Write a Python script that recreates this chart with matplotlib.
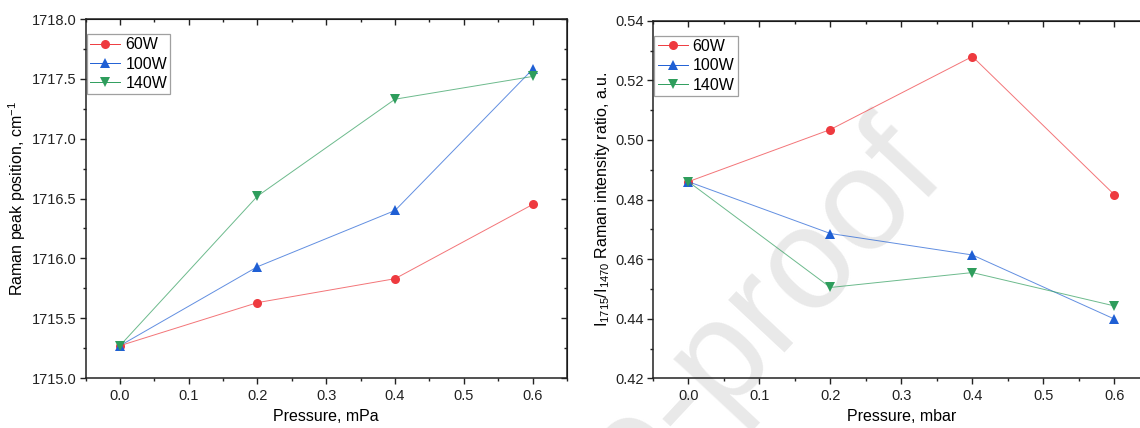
import matplotlib
matplotlib.use('Agg')
import matplotlib.pyplot as plt
from matplotlib.ticker import MultipleLocator, FormatStrFormatter

plt.rcParams['font.family'] = ['Liberation Sans', 'DejaVu Sans']
plt.rcParams['mathtext.fontset'] = 'custom'
plt.rcParams['mathtext.rm'] = 'Liberation Sans'
plt.rcParams['mathtext.default'] = 'regular'

# data
pressure = [0.0, 0.2, 0.4, 0.6]
series_names = ['60W', '100W', '140W']

peak_60 = [1715.27, 1715.63, 1715.83, 1716.45]
peak_100 = [1715.27, 1715.93, 1716.40, 1717.58]
peak_140 = [1715.27, 1716.52, 1717.33, 1717.52]

ratio_60 = [0.486, 0.5035, 0.528, 0.4816]
ratio_100 = [0.486, 0.4686, 0.4614, 0.4399]
ratio_140 = [0.486, 0.4505, 0.4555, 0.4443]

colors = ['#ee3a3f', '#1f5fd4', '#2e9d5c']
markers = ['o', '^', 'v']

fig = plt.figure(figsize=(11.4, 4.28), dpi=100)

# faint watermark behind the plots
fig.text(0.832, 0.585, 'Journal Pre-proof', fontsize=104, color='#e9e9e9',
         rotation=47, rotation_mode='anchor', ha='right', va='baseline', zorder=0)

ax1 = fig.add_axes([0.075, 0.1168, 0.4224, 0.8388])
ax2 = fig.add_axes([0.5727, 0.116, 0.436, 0.8355])


def style_axis(ax):
    ax.set_facecolor('none')
    ax.set_zorder(1)
    ax.set_xlim(-0.05, 0.65)
    ax.xaxis.set_major_locator(MultipleLocator(0.1))
    ax.xaxis.set_minor_locator(MultipleLocator(0.05))
    for s in ax.spines.values():
        s.set_linewidth(1.1)
        s.set_color('#222222')
    ax.tick_params(which='both', direction='out', top=False, right=False,
                   labelsize=10.5, colors='#222222')
    ax.tick_params(which='major', length=4, width=1.0)
    ax.tick_params(which='minor', length=2.5, width=1.0)
    ax.tick_params(axis='x', pad=4)
    ax.tick_params(axis='y', pad=2.5)
    # inward ticks on top and right, like Origin
    sx = ax.secondary_xaxis('top')
    sx.xaxis.set_major_locator(MultipleLocator(0.1))
    sx.xaxis.set_minor_locator(MultipleLocator(0.05))
    sx.tick_params(which='both', direction='in', labeltop=False, width=1.0, colors='#222222')
    sx.tick_params(which='major', length=4)
    sx.tick_params(which='minor', length=2.5)
    sy = ax.secondary_yaxis('right')
    sy.tick_params(which='both', direction='in', labelright=False, width=1.0, colors='#222222')
    sy.tick_params(which='major', length=4)
    sy.tick_params(which='minor', length=2.5)
    return sy


def draw(ax, ys):
    for y, name, c, m in zip(ys, series_names, colors, markers):
        ax.plot(pressure, y, color=c, lw=0.7, alpha=0.7)
        ax.plot(pressure, y, linestyle='none', marker=m, color=c, ms=6.5,
                markeredgewidth=0)
        ax.plot([], [], color=c, lw=0.7, marker=m, ms=6.5, markeredgewidth=0,
                label=name)
    leg = ax.legend(loc='upper left', bbox_to_anchor=(0.003, 0.958),
                    fontsize=11.5, frameon=True, fancybox=False,
                    edgecolor='#888888', borderpad=0.2, labelspacing=0.27,
                    handlelength=1.9, handletextpad=0.3, borderaxespad=0)
    leg.get_frame().set_linewidth(0.9)


# left panel
sy1 = style_axis(ax1)
draw(ax1, [peak_60, peak_100, peak_140])
ax1.set_ylim(1715.0, 1718.0)
ax1.yaxis.set_major_locator(MultipleLocator(0.5))
ax1.yaxis.set_minor_locator(MultipleLocator(0.25))
ax1.yaxis.set_major_formatter(FormatStrFormatter('%.1f'))
sy1.yaxis.set_major_locator(MultipleLocator(0.5))
sy1.yaxis.set_minor_locator(MultipleLocator(0.25))
ax1.set_xlabel('Pressure, mPa', fontsize=11.5)
ax1.set_ylabel('Raman peak position, cm$^{-1}$', fontsize=11.5)
ax1.xaxis.set_label_coords(0.5, -0.085)
ax1.yaxis.set_label_coords(-0.12, 0.5)

# right panel
sy2 = style_axis(ax2)
draw(ax2, [ratio_60, ratio_100, ratio_140])
ax2.set_ylim(0.42, 0.54)
ax2.yaxis.set_major_locator(MultipleLocator(0.02))
ax2.yaxis.set_minor_locator(MultipleLocator(0.01))
ax2.yaxis.set_major_formatter(FormatStrFormatter('%.2f'))
sy2.yaxis.set_major_locator(MultipleLocator(0.02))
sy2.yaxis.set_minor_locator(MultipleLocator(0.01))
ax2.set_xlabel('Pressure, mbar', fontsize=11.5)
ax2.set_ylabel('I$_{1715}$/I$_{1470}$ Raman intensity ratio, a.u.', fontsize=11.5)
ax2.xaxis.set_label_coords(0.5, -0.085)
ax2.yaxis.set_label_coords(-0.083, 0.5)

fig.savefig('out.png', dpi=100)
